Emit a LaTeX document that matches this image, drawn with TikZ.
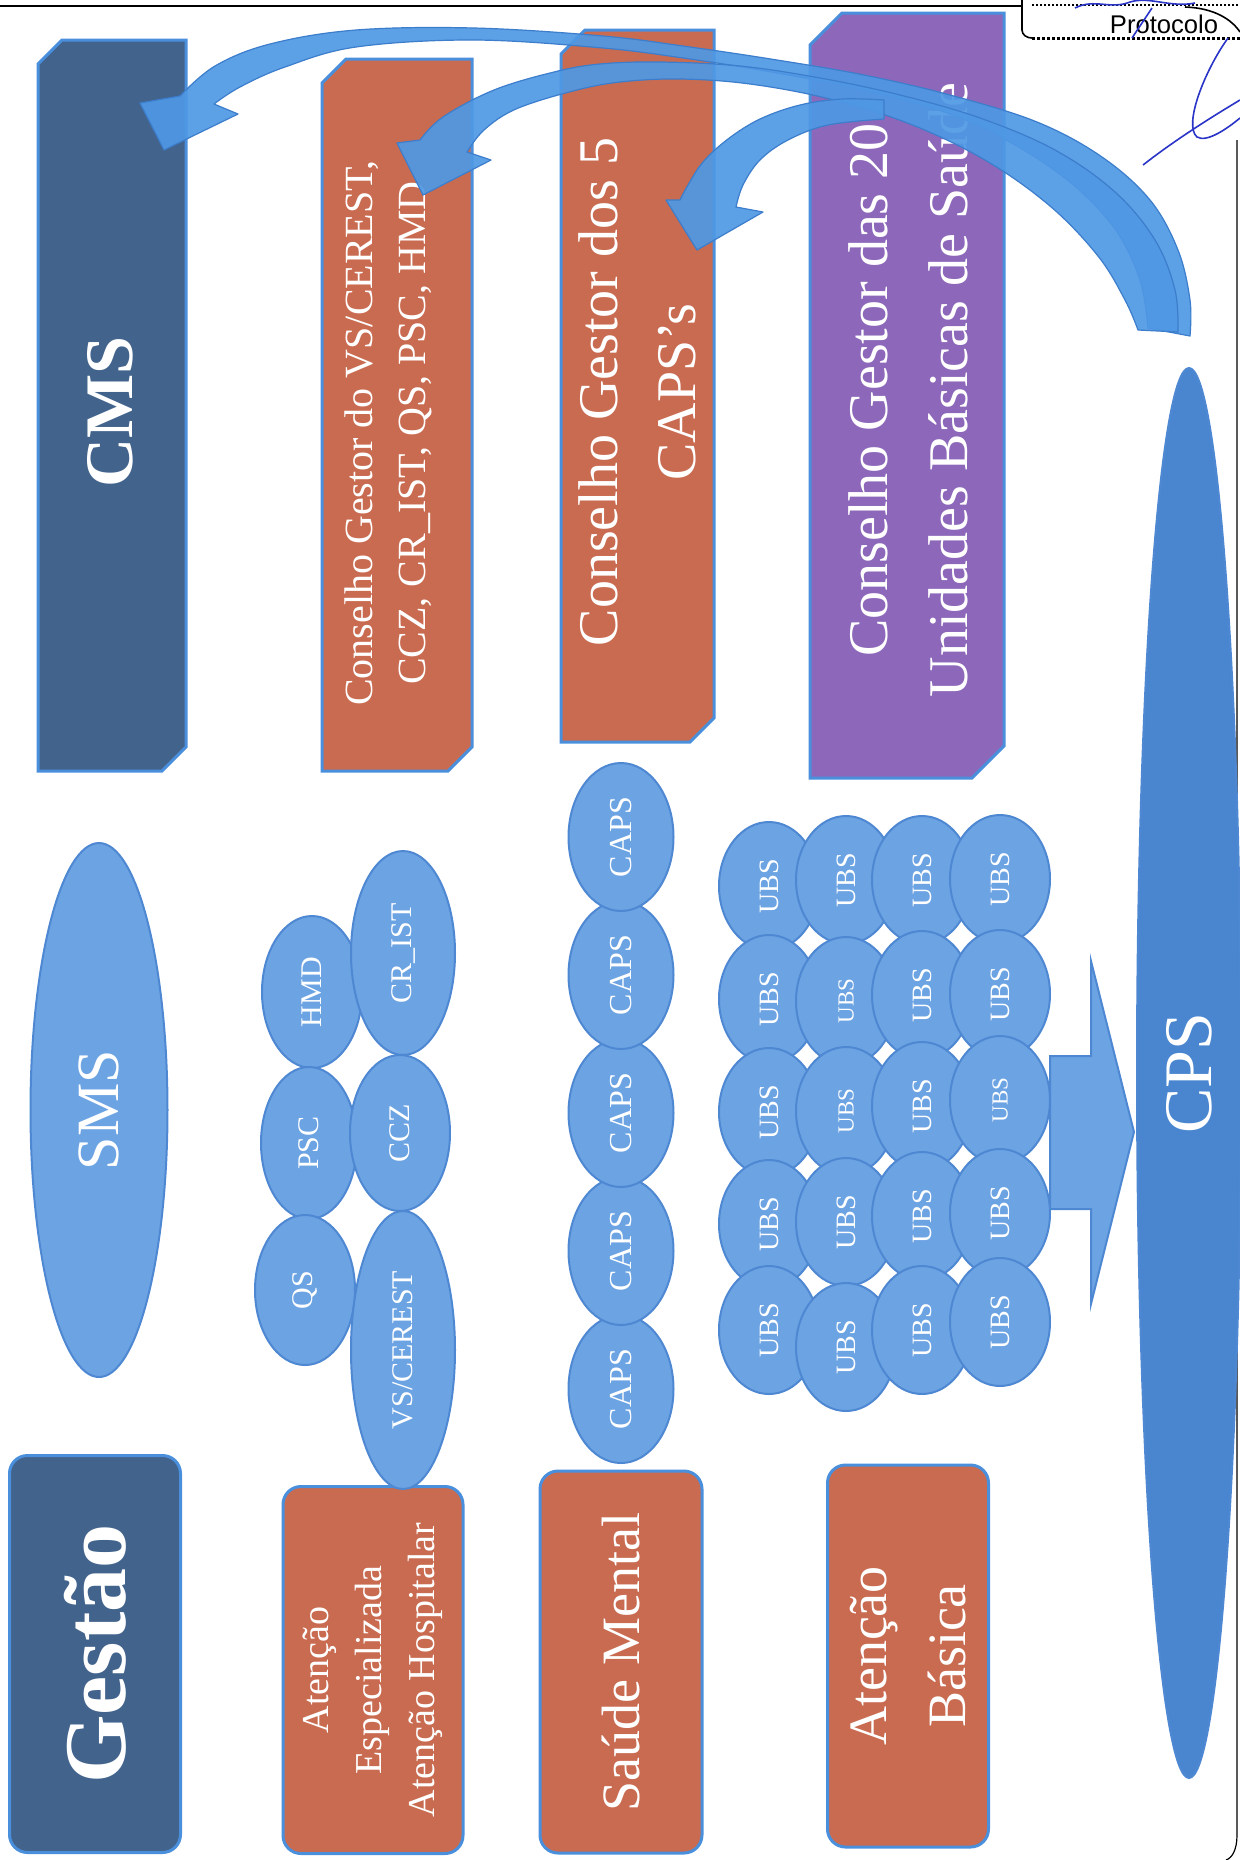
\documentclass[tikz,border=0pt]{standalone}
\usepackage{fontspec}
\setmainfont{Liberation Serif}
\newfontfamily\protfont{Liberation Sans}
\usetikzlibrary{shapes.geometric}
\definecolor{slate}{HTML}{42638C}
\definecolor{terra}{HTML}{C96B50}
\definecolor{lilac}{HTML}{8D68BA}
\definecolor{edgeblue}{HTML}{4A8FDC}
\definecolor{ellfill}{HTML}{6CA3E3}
\definecolor{elledge}{HTML}{4F88D2}
\definecolor{cpsfill}{HTML}{4A86D0}
\definecolor{arrfill}{HTML}{4F98E4}
\definecolor{arredge}{HTML}{3C7DCC}
\definecolor{inkblue}{HTML}{2A35C8}
\newcommand\chamferbox[6]{\draw[boxstyle,fill=#6] ({#1+#5},#2) -- (#3,#2) -- (#3,{#4-#5}) -- ({#3-#5},#4) -- (#1,#4) -- (#1,{#2+#5}) -- cycle;}
\begin{document}
\begin{tikzpicture}[x=0.5pt,y=-0.5pt,
  boxstyle/.style={draw=edgeblue,line width=1.5pt},
  bottombox/.style={draw=edgeblue,line width=1.5pt,rounded corners=9pt,rotate=90,text=white,align=center,inner sep=0pt},
  lbl/.style={text=white,rotate=90,align=center,inner sep=0pt},
  ell/.style={ellipse,fill=ellfill,draw=elledge,line width=1pt,inner sep=0pt,text=white,rotate=90},
  ubssize/.style={minimum width=64pt,minimum height=50pt,font=\fontsize{14}{16}\selectfont},
  ubssmall/.style={minimum width=64pt,minimum height=50pt,font=\fontsize{11.5}{14}\selectfont},
  capssize/.style={minimum width=74pt,minimum height=52.5pt,font=\fontsize{16}{19}\selectfont},
  smallell/.style={font=\fontsize{15}{17}\selectfont},
  carrow/.style={fill=arrfill,fill opacity=0.92,draw=arredge,line width=0.6pt,line join=round},
  ink/.style={draw=inkblue,line width=0.8pt}]
\useasboundingbox (0,0) rectangle (1240,1860);
\fill[white] (0,0) rectangle (1240,1860);

% page frame and stamp
\draw[line width=1.2pt] (0,6) -- (1022,6);
\draw[line width=0.8pt] (1022,0) -- (1022,30) to[out=-90,in=180] (1032,38);
\draw[line width=1.5pt,densely dotted] (1032,38) -- (1240,38);
\draw[line width=1pt,densely dotted] (1032,5) -- (1240,5);
\draw[line width=0.8pt] (1185,7) .. controls (1215,8) and (1232,20) .. (1240,32);
\node[font=\protfont\fontsize{12.8}{14}\selectfont,inner sep=0pt] (prot) at (1164,24) {Protocolo};
\draw[line width=0.6pt] (1237,140) -- (1237,1835) .. controls (1237,1850) and (1232,1858) .. (1226,1860);

% top council boxes
\chamferbox{38}{40}{186}{771}{24}{slate}
\chamferbox{322}{59}{472}{771}{24}{terra}
\chamferbox{561}{30}{714}{742}{24}{terra}
\chamferbox{810}{13}{1004}{778}{32}{lilac}
\node[lbl,font=\bfseries\fontsize{34}{38}\selectfont] (cms) at (110,412) {CMS};
\node[lbl,font=\fontsize{20}{26.5}\selectfont] (cgvs) at (388,433) {Conselho Gestor do VS/CEREST,\\CCZ, CR\_IST, QS, PSC, HMD};
\node[lbl,font=\fontsize{28}{39}\selectfont] (cgcaps) at (637,392) {Conselho Gestor dos 5\\CAPS’s};
\node[lbl,font=\fontsize{28}{40}\selectfont] (cgubs) at (908,390) {Conselho Gestor das 20\\Unidades Básicas de Saúde};

% bottom category boxes
\node[bottombox,fill=slate,minimum width=198.5pt,minimum height=85.5pt,font=\bfseries\fontsize{44}{48}\selectfont] (gestao) at (95,1654) {Gestão};
\node[bottombox,fill=terra,minimum width=183.5pt,minimum height=90pt,font=\fontsize{19}{26.5}\selectfont] (atesp) at (373,1670) {Atenção\\Especializada\\Atenção Hospitalar};
\node[bottombox,fill=terra,minimum width=191pt,minimum height=81pt,font=\fontsize{27}{32}\selectfont] (saude) at (621,1662) {Saúde Mental};
\node[bottombox,fill=terra,minimum width=191pt,minimum height=80.5pt,font=\fontsize{27}{39.5}\selectfont] (atbas) at (908,1656) {Atenção\\Básica};

% SMS
\node[ell,minimum width=267pt,minimum height=68.5pt,font=\fontsize{30}{32}\selectfont] (sms) at (99,1110) {SMS};

% specialised services
\node[ell,smallell,minimum width=76pt,minimum height=50pt] (hmd) at (312,992) {HMD};
\node[ell,smallell,minimum width=76pt,minimum height=48pt] (psc) at (309,1143) {PSC};
\node[ell,smallell,minimum width=75pt,minimum height=50pt] (qs) at (305,1290) {QS};
\node[ell,smallell,minimum width=102pt,minimum height=52pt] (crist) at (403,953) {CR\_IST};
\node[ell,smallell,minimum width=78pt,minimum height=50pt] (ccz) at (400,1133) {CCZ};
\node[ell,smallell,minimum width=139pt,minimum height=52pt] (vscerest) at (403,1350) {VS/CEREST};

% CAPS
\node[ell,capssize] (caps5) at (621,1389) {CAPS};
\node[ell,capssize] (caps4) at (621,1251) {CAPS};
\node[ell,capssize] (caps3) at (621,1113) {CAPS};
\node[ell,capssize] (caps2) at (621,975) {CAPS};
\node[ell,capssize] (caps1) at (621,837) {CAPS};

% block arrow towards CPS
\filldraw[fill=ellfill,draw=elledge,line width=1pt] (1050,1056) -- (1091,1056) -- (1091,961) -- (1134,1132) -- (1091,1304) -- (1091,1209) -- (1050,1209) -- cycle;

% UBS grid
\node[ell,ubssize] (u11) at (769,886) {UBS};
\node[ell,ubssize] (u12) at (769,999) {UBS};
\node[ell,ubssize] (u13) at (769,1112) {UBS};
\node[ell,ubssize] (u14) at (769,1224) {UBS};
\node[ell,ubssize] (u15) at (769,1330) {UBS};
\node[ell,ubssize] (u21) at (846,880) {UBS};
\node[ell,ubssmall] (u22) at (846,1001) {UBS};
\node[ell,ubssmall] (u23) at (846,1111) {UBS};
\node[ell,ubssize] (u24) at (846,1222) {UBS};
\node[ell,ubssize] (u25) at (846,1347) {UBS};
\node[ell,ubssize] (u31) at (922,880) {UBS};
\node[ell,ubssize] (u32) at (922,995) {UBS};
\node[ell,ubssize] (u33) at (922,1106) {UBS};
\node[ell,ubssize] (u34) at (922,1216) {UBS};
\node[ell,ubssize] (u35) at (922,1330) {UBS};
\node[ell,ubssize] (u41) at (1000,879) {UBS};
\node[ell,ubssize] (u42) at (1000,994) {UBS};
\node[ell,ubssmall] (u43) at (1000,1100) {UBS};
\node[ell,ubssize] (u44) at (1000,1213) {UBS};
\node[ell,ubssize] (u45) at (1000,1322) {UBS};

% CPS
\node[ell,fill=cpsfill,minimum width=705pt,minimum height=52pt,font=\fontsize{34}{36}\selectfont] (cps) at (1189,1073) {CPS};

% curved arrows
\coordinate (tipcms) at (164,150);
\coordinate (tipvs) at (423,195);
\coordinate (tipcaps) at (697,250);
\path[carrow] plot[smooth,tension=0.6] coordinates {(1190,336) (1190,300) (1178,250) (1150,200) (1102,157) (1037,122) (950,95) (864,75) (777,60) (690,47) (603,36) (474,28) (356,30) (270,44) (215,66) (180,96)}
  -- (140,103) -- (tipcms) -- (238,114)
  -- plot[smooth,tension=0.6] coordinates {(214,104) (240,87) (285,67) (356,47) (474,40) (603,48) (690,59) (777,73) (864,90) (950,114) (1010,142) (1070,182) (1115,229) (1140,280) (1148,328)} -- cycle;
\path[carrow] plot[smooth,tension=0.6] coordinates {(1178,332) (1175,290) (1155,240) (1115,192) (1055,150) (980,118) (900,95) (820,78) (740,66) (660,62) (600,64) (554,72) (494,90) (443,117) (420,140)}
  -- (397,143) -- (tipvs) -- (491,160)
  -- plot[smooth,tension=0.6] coordinates {(467,152) (484,130) (516,109) (573,91) (620,82) (680,79) (750,84) (830,99) (910,124) (985,160) (1050,206) (1098,256) (1125,300) (1138,330)} -- cycle;
\path[carrow] plot[smooth,tension=0.6] coordinates {(884,100) (842,99) (800,105) (760,119) (728,139) (703,162) (688,185) (680,200)}
  -- (666,200) -- (tipcaps) -- (763,212)
  -- plot[smooth,tension=0.6] coordinates {(736,207) (743,185) (760,160) (788,140) (828,125) (884,119)} -- cycle;

% handwritten marks
\draw[ink] (1143,165) .. controls (1175,140) and (1210,118) .. (1240,100);
\draw[ink] (1228,38) .. controls (1205,70) and (1183,125) .. (1197,137) .. controls (1207,143) and (1228,128) .. (1240,118);
\draw[ink] (1152,8) -- (1132,38);
\draw[ink] (1075,8) .. controls (1095,-2) and (1110,10) .. (1130,2) .. controls (1150,-4) and (1170,8) .. (1195,3);
\end{tikzpicture}
\end{document}
